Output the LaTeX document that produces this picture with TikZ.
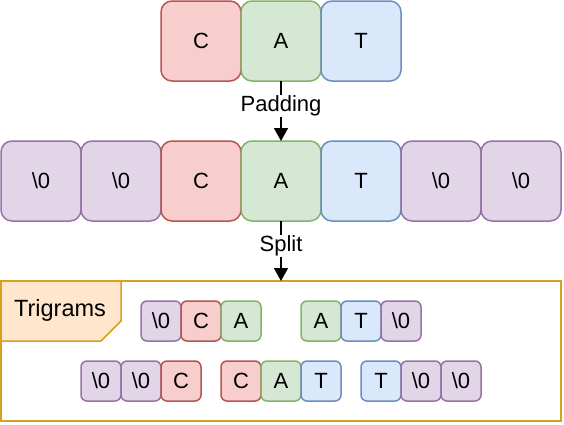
\documentclass[tikz,border=0pt]{standalone}
\usepackage{fontspec}
\setmainfont{Liberation Sans}
\usetikzlibrary{arrows.meta}

\definecolor{redfill}{HTML}{F8CECC}\definecolor{redline}{HTML}{B85450}
\definecolor{greenfill}{HTML}{D5E8D4}\definecolor{greenline}{HTML}{82B366}
\definecolor{bluefill}{HTML}{DAE8FC}\definecolor{blueline}{HTML}{6C8EBF}
\definecolor{purplefill}{HTML}{E1D5E7}\definecolor{purpleline}{HTML}{9673A6}
\definecolor{framefill}{HTML}{FFE6CC}\definecolor{frameline}{HTML}{D6A21E}

\tikzset{
  letter/.style={draw,line width=1.5pt,rounded corners=11pt,inner sep=0pt,outer sep=0pt,
    minimum width=80pt,minimum height=80pt,font=\fontsize{22}{26}\selectfont},
  small/.style={letter,rounded corners=6pt,minimum width=40pt,minimum height=40pt},
  cc/.style={fill=redfill,draw=redline},
  aa/.style={fill=greenfill,draw=greenline},
  tt/.style={fill=bluefill,draw=blueline},
  nul/.style={fill=purplefill,draw=purpleline},
  flow/.style={-{Triangle[length=13pt,width=14pt]},line width=1.5pt},
  flowlabel/.style={midway,yshift=5pt,fill=white,inner sep=1pt,font=\fontsize{22}{26}\selectfont}
}

\begin{document}
\begin{tikzpicture}[x=1pt,y=-1pt]
  \useasboundingbox (0,0) rectangle (564,424);
  % word
  \node[letter,cc] (c1) at (201,41) {C};
  \node[letter,aa] (a1) at (281,41) {A};
  \node[letter,tt] (t1) at (361,41) {T};
  % padded word
  \node[letter,nul] (p1) at (41,181) {\textbackslash 0};
  \node[letter,nul] (p2) at (121,181) {\textbackslash 0};
  \node[letter,cc] (c2) at (201,181) {C};
  \node[letter,aa] (a2) at (281,181) {A};
  \node[letter,tt] (t2) at (361,181) {T};
  \node[letter,nul] (p3) at (441,181) {\textbackslash 0};
  \node[letter,nul] (p4) at (521,181) {\textbackslash 0};
  % trigram frame
  \node[draw=frameline,line width=1.5pt,minimum width=560pt,minimum height=140pt,
    inner sep=0pt,outer sep=0pt] (frame) at (281,351) {};
  \draw[draw=frameline,fill=framefill,line width=1.5pt]
    (frame.north west) -- ++(120,0) -- ++(0,40) -- ++(-20,20) -- ++(-100,0) -- cycle;
  \node[font=\fontsize{23.5}{28}\selectfont] (title) at (60,310) {Trigrams};
  % trigrams
  \node[small,nul] (g1a) at (161,321) {\textbackslash 0};
  \node[small,cc]  (g1b) at (201,321) {C};
  \node[small,aa]  (g1c) at (241,321) {A};
  \node[small,aa]  (g2a) at (321,321) {A};
  \node[small,tt]  (g2b) at (361,321) {T};
  \node[small,nul] (g2c) at (401,321) {\textbackslash 0};
  \node[small,nul] (g3a) at (101,381) {\textbackslash 0};
  \node[small,nul] (g3b) at (141,381) {\textbackslash 0};
  \node[small,cc]  (g3c) at (181,381) {C};
  \node[small,cc]  (g4a) at (241,381) {C};
  \node[small,aa]  (g4b) at (281,381) {A};
  \node[small,tt]  (g4c) at (321,381) {T};
  \node[small,tt]  (g5a) at (381,381) {T};
  \node[small,nul] (g5b) at (421,381) {\textbackslash 0};
  \node[small,nul] (g5c) at (461,381) {\textbackslash 0};
  % steps
  \draw[flow] (a1.south) -- (a2.north) node[flowlabel] {Padding};
  \draw[flow] (a2.south) -- (frame.north) node[flowlabel] {Split};
\end{tikzpicture}
\end{document}
